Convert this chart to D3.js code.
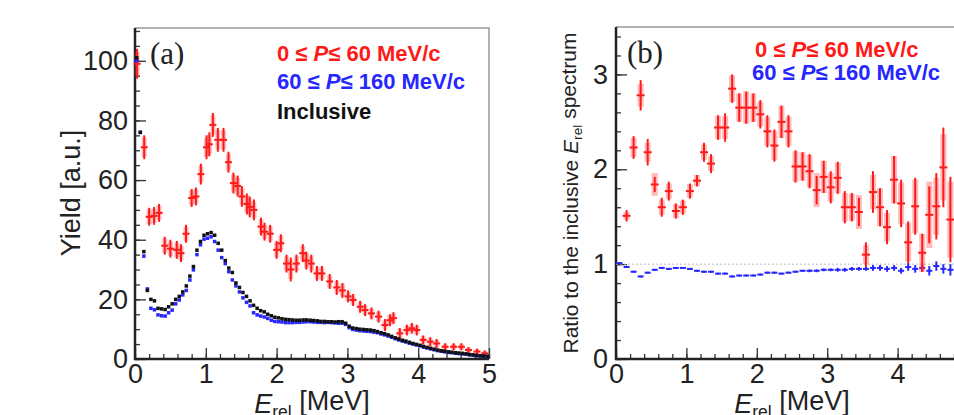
<!DOCTYPE html>
<html>
<head>
<meta charset="utf-8">
<script src="https://cdn.jsdelivr.net/npm/d3@7"></script>
<style>
  body { margin: 0; background: #fff; }
  text { font-family: "Liberation Sans", Arial, sans-serif; }
</style>
</head>
<body>
<script>
// panel (a): yield, 0 <= P <= 60 MeV/c (red, sparse bins)
var loX = [0.03,0.13,0.2,0.27,0.34,0.42,0.5,0.59,0.65,0.72,0.8,0.86,0.93,1.01,1.05,1.1,1.17,1.25,1.32,1.39,1.45,1.51,1.58,1.62,1.68,1.78,1.83,1.91,2.0,2.06,2.14,2.2,2.28,2.37,2.42,2.49,2.57,2.64,2.75,2.85,2.93,3.01,3.08,3.18,3.25,3.34,3.44,3.53,3.6,3.65,3.74,3.84,3.91,3.98,4.07,4.17,4.26,4.38,4.5,4.61,4.71,4.83,4.94];
var loY = [99,71,47.7,48,49,38,37,36.6,35.5,42,54,54.5,62,71,72,78.5,73.5,73.5,66,59,58,54.5,52,51,50,44.4,42.7,42,36.6,38.8,32,30,32,35.5,33,32,28.7,28.7,26,24,23,21,19.8,17.5,16.4,15.3,14.2,11.4,13,13.7,8.6,9.7,10.3,9.7,6.4,5.8,5.2,4.1,4.1,4.1,3.0,2.5,1.9];
var loErr = [5,4,3,3,3,3,3,3,3,3,3,3,3.5,4,4,4,4,4,3.5,3.5,3.5,3.5,3.5,3.5,3.5,3,3,3,3,3,3,4,3,3,3,3,2.5,2.5,2.5,2.5,2.5,2,2,2,2,2,2,2,2,2,1.8,1.8,1.8,1.8,1.5,1.5,1.5,1.2,1.2,1.2,1,1,1];

// panel (a): 60 <= P <= 160 MeV/c (blue) and inclusive (black), 0.05 MeV bins
var fineX = [0.025,0.075,0.125,0.175,0.225,0.275,0.325,0.375,0.425,0.475,0.525,0.575,0.625,0.675,0.725,0.775,0.825,0.875,0.925,0.975,
  1.025,1.075,1.125,1.175,1.225,1.275,1.325,1.375,1.425,1.475,1.525,1.575,1.625,1.675,1.725,1.775,1.825,1.875,1.925,1.975,
  2.025,2.075,2.125,2.175,2.225,2.275,2.325,2.375,2.425,2.475,2.525,2.575,2.625,2.675,2.725,2.775,2.825,2.875,2.925,2.975,
  3.025,3.075,3.125,3.175,3.225,3.275,3.325,3.375,3.425,3.475,3.525,3.575,3.625,3.675,3.725,3.775,3.825,3.875,3.925,3.975,
  4.025,4.075,4.125,4.175,4.225,4.275,4.325,4.375,4.425,4.475,4.525,4.575,4.625,4.675,4.725,4.775,4.825,4.875,4.925,4.975];
var inclY = [101,76,36,23,20,19.5,17,16.8,16.6,17.5,18.5,20,21,22.5,24.5,27.8,31,36.5,39.4,41.5,
  42,42.4,41.5,38.8,36.5,33,30.5,29,25.5,24,22.3,21,19.5,18,17,16.2,15.8,15,14.5,14,
  13.8,13.5,13.3,13.2,13.1,13,13,13.1,13.1,13,12.9,12.8,12.6,12.6,12.5,12.5,12.4,12.5,12.5,12,
  11,10.4,10.2,10,9.9,9.8,9.7,9.5,9.2,8.8,8.5,8.1,7.6,7.1,6.7,6.3,6,5.6,5.2,4.9,
  4.6,4.2,3.9,3.6,3.3,3,2.8,2.6,2.4,2.3,2.1,2,1.9,1.7,1.5,1.4,1.2,1.1,1,0.9];
var hiY = [100,76,34.5,23.5,17,16.5,14.8,14.5,14.4,15.5,16.4,18.5,19.8,21.5,23,26.5,29.9,35,38.3,40.2,
  40.5,41,39.4,36.5,34,32,29.3,26.5,24.5,22.5,20.5,19,17.8,15.5,14.8,14.4,14.1,13.6,13,12.6,
  12.5,12.4,12.2,12.2,12.2,12.3,12.3,12.4,12.5,12.5,12.4,12.3,12.3,12.2,12.3,12.2,12.1,12,12,11.6,
  10.5,9.9,9.7,9.5,9.4,9.3,9.2,9,8.8,8.4,8.1,7.7,7.3,6.8,6.4,6,5.7,5.3,5,4.7,
  4.4,4,3.7,3.4,3.1,2.8,2.6,2.4,2.2,2.1,1.9,1.8,1.7,1.6,1.4,1.3,1.1,1,0.9,0.8];

// panel (b): ratio to inclusive, 0.1 MeV bins
var ratioLoX = [0.15,0.25,0.35,0.45,0.55,0.65,0.75,0.85,0.95,1.05,1.15,1.25,1.35,1.45,1.55,1.65,1.75,1.85,1.95,2.05,2.15,2.25,2.35,2.45,
  2.55,2.65,2.75,2.85,2.95,3.05,3.15,3.25,3.35,3.45,3.55,3.65,3.75,3.85,3.95,4.05,4.15,4.25,4.35,4.45,4.55,4.65,4.75];
var ratioLoY = [1.51,2.23,2.78,2.18,1.84,1.6,1.77,1.56,1.6,1.77,1.88,2.18,2.06,2.44,2.44,2.85,2.65,2.65,2.65,2.58,2.4,2.25,2.5,2.4,
  2.03,2.03,1.98,1.78,1.92,1.81,1.91,1.6,1.6,1.55,1.1,1.76,1.6,1.39,1.89,1.64,1.23,1.61,1.12,1.52,1.61,2.02,1.47];
var ratioLoErr = [0.06,0.12,0.16,0.14,0.08,0.1,0.1,0.08,0.08,0.08,0.06,0.1,0.1,0.13,0.15,0.15,0.15,0.17,0.15,0.15,0.17,0.17,0.17,0.17,
  0.17,0.15,0.18,0.15,0.17,0.17,0.17,0.17,0.15,0.15,0.13,0.22,0.2,0.18,0.25,0.25,0.22,0.3,0.2,0.3,0.35,0.42,0.45];
var ratioLoSys = [0.04,0.1,0.12,0.1,0.12,0.08,0.08,0.07,0.07,0.07,0.06,0.08,0.08,0.12,0.12,0.14,0.15,0.17,0.15,0.13,0.15,0.15,0.17,0.15,
  0.16,0.15,0.17,0.18,0.17,0.15,0.16,0.15,0.14,0.18,0.1,0.18,0.2,0.15,0.25,0.22,0.2,0.28,0.2,0.35,0.3,0.35,0.4];
var ratioHiX = [0.05,0.15,0.25,0.35,0.45,0.55,0.65,0.75,0.85,0.95,1.05,1.15,1.25,1.35,1.45,1.55,1.65,1.75,1.85,1.95,2.05,2.15,2.25,2.35,
  2.45,2.55,2.65,2.75,2.85,2.95,3.05,3.15,3.25,3.35,3.45,3.55,3.65,3.75,3.85,3.95,4.05,4.15,4.25,4.35,4.45,4.55,4.65,4.75,4.85,4.95];
var ratioHiY = [1.01,0.97,0.92,0.87,0.91,0.94,0.96,0.95,0.96,0.96,0.95,0.93,0.92,0.92,0.9,0.9,0.87,0.88,0.88,0.88,0.89,0.91,0.91,0.9,
  0.91,0.92,0.93,0.93,0.93,0.94,0.94,0.94,0.94,0.95,0.95,0.95,0.96,0.96,0.95,0.96,0.93,0.97,0.95,0.96,0.93,0.98,0.95,0.94,0.92,0.95];
var ratioHiErr = [0.01,0.01,0.01,0.01,0.01,0.01,0.01,0.01,0.01,0.01,0.01,0.01,0.01,0.01,0.01,0.01,0.01,0.01,0.01,0.01,0.01,0.01,0.01,0.01,
  0.01,0.01,0.01,0.015,0.015,0.015,0.015,0.02,0.02,0.02,0.02,0.02,0.03,0.03,0.03,0.03,0.03,0.04,0.04,0.04,0.05,0.05,0.05,0.06,0.06,0.06];

var xTicks = [0, 1, 2, 3, 4, 5];
var aYTicks = [0, 20, 40, 60, 80, 100];
var bYTicks = [0, 1, 2, 3];

var red = "#ff1a1a", pink = "rgba(255,60,60,0.35)", blue = "#2626ff";

var width = 954, height = 415;
var svg = d3.select("body").append("svg")
  .attr("width", width)
  .attr("height", height);

var aX = d3.scaleLinear().domain([0, 5]).range([135, 489]);
var aY = d3.scaleLinear().domain([0, 111]).range([359, 28]);
var bX = d3.scaleLinear().domain([0, 5]).range([616, 968]);
var bY = d3.scaleLinear().domain([0, 3.5]).range([359, 27]);

function zip(xs, ys, es, ss) {
  return xs.map(function (d, i) { return { x: d, y: ys[i], e: es ? es[i] : 0, s: ss ? ss[i] : 0 }; });
}

function drawAxes(x, y, yTicks, yMinor, labelPad) {
  var g = svg.append("g");
  var x0 = x.range()[0], x1 = x.range()[1], y0 = y.range()[0], y1 = y.range()[1];
  // frame top / right
  g.append("path").attr("d", "M" + x0 + "," + y1 + "H" + x1 + "V" + y0)
    .attr("fill", "none").attr("stroke", "#999").attr("stroke-width", 1.5);

  g.append("g").attr("transform", "translate(0," + y0 + ")")
    .call(d3.axisBottom(x).tickValues(d3.range(0, 5.01, 0.2)).tickSize(-5).tickFormat(""))
    .call(function (s) { s.select(".domain").remove(); });
  g.append("g").attr("transform", "translate(0," + y0 + ")")
    .call(d3.axisBottom(x).tickValues(xTicks).tickSizeInner(-11).tickSizeOuter(0).tickPadding(5).tickFormat(d3.format("d")))
    .call(function (s) {
      s.select(".domain").remove();
      s.selectAll("text").attr("font-size", 27).attr("fill", "#222").style("font-family", "Liberation Sans, Arial, sans-serif");
    });

  g.append("g").attr("transform", "translate(" + x0 + ",0)")
    .call(d3.axisLeft(y).tickValues(yMinor).tickSize(-5).tickFormat(""))
    .call(function (s) { s.select(".domain").remove(); });
  g.append("g").attr("transform", "translate(" + x0 + ",0)")
    .call(d3.axisLeft(y).tickValues(yTicks).tickSizeInner(-11).tickSizeOuter(0).tickPadding(labelPad).tickFormat(d3.format("d")))
    .call(function (s) {
      s.select(".domain").remove();
      s.selectAll("text").attr("font-size", 27).attr("fill", "#222").style("font-family", "Liberation Sans, Arial, sans-serif");
    });
  g.selectAll(".tick line").attr("stroke", "#333").attr("stroke-width", 1.3);

  // left and bottom axis lines
  g.append("path").attr("d", "M" + x0 + "," + y1 + "V" + y0 + "H" + x1)
    .attr("fill", "none").attr("stroke", "#222").attr("stroke-width", 2.5);
}

function drawCrosses(data, x, y, col, sysW, halfW) {
  var g = svg.append("g");
  g.selectAll("rect.sys").data(data.filter(function (d) { return d.s > 0; })).enter().append("rect")
    .attr("x", function (d) { return x(d.x) - sysW / 2; })
    .attr("y", function (d) { return y(d.y + d.s); })
    .attr("width", sysW)
    .attr("height", function (d) { return y(d.y - d.s) - y(d.y + d.s); })
    .attr("fill", pink);
  g.selectAll("line.v").data(data).enter().append("line")
    .attr("x1", function (d) { return x(d.x); })
    .attr("x2", function (d) { return x(d.x); })
    .attr("y1", function (d) { return y(d.y - d.e); })
    .attr("y2", function (d) { return y(d.y + d.e); })
    .attr("stroke", col).attr("stroke-width", 2);
  g.selectAll("line.h").data(data).enter().append("line")
    .attr("x1", function (d) { return x(d.x) - halfW; })
    .attr("x2", function (d) { return x(d.x) + halfW; })
    .attr("y1", function (d) { return y(d.y); })
    .attr("y2", function (d) { return y(d.y); })
    .attr("stroke", col).attr("stroke-width", 2);
}

function drawSquares(data, x, y, col, size) {
  svg.append("g").selectAll("rect").data(data).enter().append("rect")
    .attr("x", function (d) { return x(d.x) - size / 2; })
    .attr("y", function (d) { return y(d.y) - size / 2; })
    .attr("width", size).attr("height", size)
    .attr("fill", col);
}

function ytitle(cx, cy, size, parts) {
  var t = svg.append("text")
    .attr("transform", "translate(" + cx + "," + cy + ") rotate(-90)")
    .attr("text-anchor", "middle").attr("font-size", size).attr("fill", "#222");
  parts(t);
}

function erelTitle(t) {
  t.append("tspan").attr("font-style", "italic").text("E");
  t.append("tspan").attr("font-size", "0.65em").attr("dy", "0.3em").text("rel");
  t.append("tspan").attr("dy", "-0.3em").text(" [MeV]");
}

// ---- panel (a)
drawAxes(aX, aY, aYTicks, d3.range(0, 111, 5), 7);

drawCrosses(zip(loX, loY, loErr, loErr.map(function (e) { return e * 0.8; })), aX, aY, red, 5, 3.5);
drawSquares(zip(fineX, hiY), aX, aY, blue, 3.5);
drawSquares(zip(fineX, inclY), aX, aY, "#111", 3.5);

var xt = svg.append("text").attr("x", (aX(0) + aX(5)) / 2).attr("y", 413)
  .attr("text-anchor", "middle").attr("font-size", 27).attr("fill", "#222");
erelTitle(xt);

ytitle(80, 193, 27, function (t) { t.text("Yield [a.u.]"); });

svg.append("text").attr("x", 150).attr("y", 64).attr("font-size", 31)
  .style("font-family", "Liberation Serif, Times New Roman, serif").attr("fill", "#222").text("(a)");

function legendLine(x, y, col, lo, hi) {
  var t = svg.append("text").attr("x", x).attr("y", y).attr("font-size", 22)
    .attr("font-weight", "bold").attr("fill", col);
  t.append("tspan").text(lo + " \u2264 ");
  t.append("tspan").attr("font-style", "italic").text("P");
  t.append("tspan").text("\u2264 " + hi + " MeV/c");
}
legendLine(277, 61, red, "0", "60");
legendLine(277, 89, blue, "60", "160");
svg.append("text").attr("x", 277).attr("y", 119).attr("font-size", 22)
  .attr("font-weight", "bold").attr("fill", "#111").text("Inclusive");

// ---- panel (b)
drawAxes(bX, bY, bYTicks, d3.range(0, 3.51, 0.2), 8);

svg.append("line")
  .attr("x1", bX(0)).attr("x2", bX(5)).attr("y1", bY(1)).attr("y2", bY(1))
  .attr("stroke", "#bbb").attr("stroke-width", 1).attr("stroke-dasharray", "2,2");

drawCrosses(zip(ratioHiX, ratioHiY, ratioHiErr), bX, bY, blue, 0, 3);
drawCrosses(zip(ratioLoX, ratioLoY, ratioLoErr, ratioLoSys), bX, bY, red, 6, 4);

var xt2 = svg.append("text").attr("x", (bX(0) + bX(5)) / 2).attr("y", 413)
  .attr("text-anchor", "middle").attr("font-size", 27).attr("fill", "#222");
erelTitle(xt2);

ytitle(578, 193, 21, function (t) {
  t.append("tspan").text("Ratio to the inclusive ");
  t.append("tspan").attr("font-style", "italic").text("E");
  t.append("tspan").attr("font-size", "0.65em").attr("dy", "0.3em").text("rel");
  t.append("tspan").attr("dy", "-0.3em").text(" spectrum");
});

svg.append("text").attr("x", 627).attr("y", 63).attr("font-size", 31)
  .style("font-family", "Liberation Serif, Times New Roman, serif").attr("fill", "#222").text("(b)");

legendLine(755, 57, red, "0", "60");
legendLine(752, 80, blue, "60", "160");
</script>
</body>
</html>
